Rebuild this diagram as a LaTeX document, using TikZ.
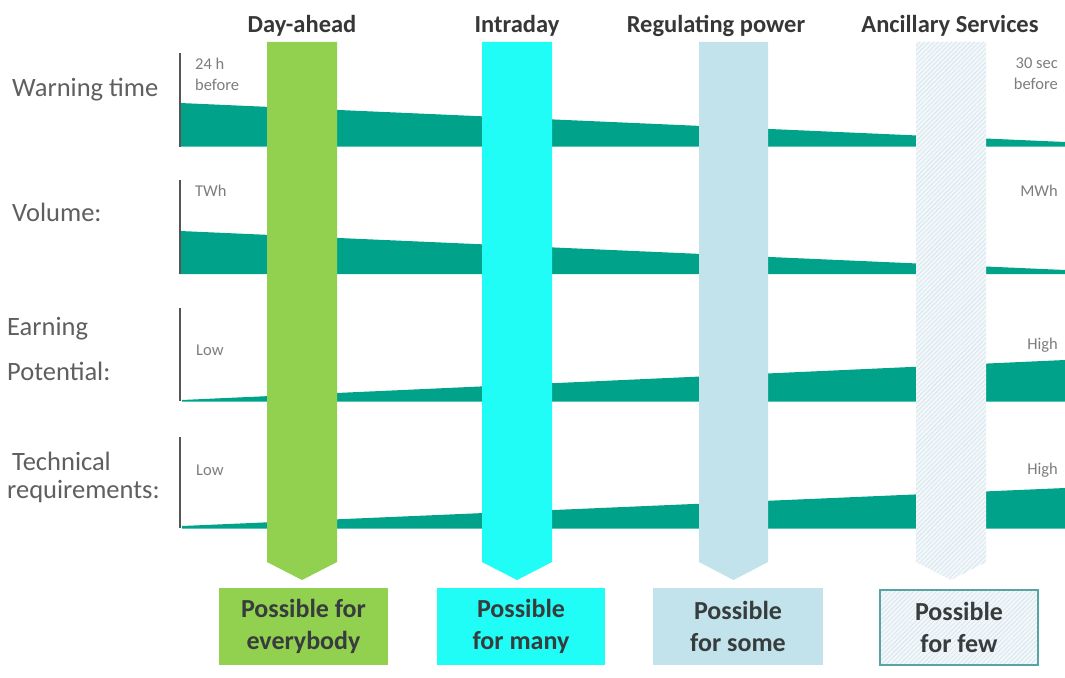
\documentclass[tikz,border=0pt]{standalone}
\usepackage{fontspec}
\setmainfont{Carlito}
\usetikzlibrary{patterns.meta}

\definecolor{bandcol}{RGB}{0,163,138}
\definecolor{axiscol}{RGB}{85,85,85}
\definecolor{labelgray}{RGB}{95,95,95}
\definecolor{smallgray}{RGB}{125,125,125}
\definecolor{headgray}{RGB}{55,55,55}
\definecolor{boxtext}{RGB}{55,60,60}
\definecolor{dayfill}{RGB}{146,208,80}
\definecolor{intrafill}{RGB}{32,252,246}
\definecolor{regfill}{RGB}{194,226,236}
\definecolor{ancfill}{RGB}{241,247,250}
\definecolor{anchatch}{RGB}{212,227,234}
\definecolor{fewdraw}{RGB}{88,164,164}

\begin{document}
\begin{tikzpicture}[x=1pt,y=-1pt,
  band/.style={fill=bandcol,draw=none},
  axisline/.style={draw=axiscol,line width=2pt},
  rowlabel/.style={anchor=base west,inner sep=0pt,text=labelgray,
    font=\fontsize{26.5}{30}\selectfont},
  smalltext/.style={inner sep=0pt,text=smallgray,
    font=\fontsize{16.5}{21}\selectfont},
  header/.style={anchor=base,inner sep=0pt,text=headgray,
    font=\bfseries\fontsize{24.5}{28}\selectfont},
  outcome/.style={minimum width=169pt,minimum height=77pt,inner sep=0pt,
    align=center,text=boxtext,font=\bfseries\fontsize{26}{32}\selectfont},
  hatch/.style={pattern={Lines[angle=45,distance=3.2pt,line width=0.6pt]},
    pattern color=anchatch}
]
\useasboundingbox (0,0) rectangle (1065,677);
\fill[white] (0,0) rectangle (1065,677);

% ---- row labels ----
\node[rowlabel] (lwarn) at (12,96) {Warning time};
\node[rowlabel] (lvol)  at (12,221) {Volume:};
\node[rowlabel] (learn1) at (7,335) {Earning};
\node[rowlabel] (learn2) at (7,380) {Potential:};
\node[rowlabel] (ltech1) at (12,470) {Technical};
\node[rowlabel] (ltech2) at (7,498) {requirements:};

% ---- wedges ----
\fill[band] (180,103) -- (1065,142) -- (1065,146.5) -- (180,146.5) -- cycle;
\fill[band] (180,231) -- (1065,270) -- (1065,274) -- (180,274) -- cycle;
\fill[band] (182,400) -- (1065,360) -- (1065,401.5) -- (182,401.5) -- cycle;
\fill[band] (182,526) -- (1065,488) -- (1065,528.5) -- (182,528.5) -- cycle;

% ---- axes ----
\draw[axisline] (180,53) -- (180,147);
\draw[axisline] (180,180) -- (180,274);
\draw[axisline] (180,308) -- (180,401);
\draw[axisline] (180,437) -- (180,528);

% ---- scale ends ----
\node[smalltext,anchor=north west,align=left] (t24) at (195,58) {24 h\\before};
\node[smalltext,anchor=north east,align=right] (t30) at (1058,58) {30 sec\\before};
\node[smalltext,anchor=base west] (twh) at (195,196) {TWh};
\node[smalltext,anchor=base east] (mwh) at (1058,196) {MWh};
\node[smalltext,anchor=base west] (elow) at (196,355) {Low};
\node[smalltext,anchor=base east] (ehigh) at (1058,349) {High};
\node[smalltext,anchor=base west] (tlow) at (196,475) {Low};
\node[smalltext,anchor=base east] (thigh) at (1058,474) {High};

% ---- market arrows ----
\fill[dayfill]   (267,42) -- (337,42) -- (337,562) -- (302,580) -- (267,562) -- cycle;
\fill[intrafill] (482,42) -- (552,42) -- (552,562) -- (517,580) -- (482,562) -- cycle;
\fill[regfill]   (699,42) -- (768,42) -- (768,562) -- (733.5,580) -- (699,562) -- cycle;
\fill[ancfill]   (916,42) -- (986,42) -- (986,562) -- (951,580) -- (916,562) -- cycle;
\fill[hatch]     (916,42) -- (986,42) -- (986,562) -- (951,580) -- (916,562) -- cycle;

% ---- headers ----
\node[header] (hday)   at (302,33) {Day-ahead};
\node[header] (hintra) at (517,33) {Intraday};
\node[header] (hreg)   at (716,33) {Regulating power};
\node[header] (hanc)   at (950,33) {Ancillary Services};

% ---- outcome boxes ----
\node[outcome,fill=dayfill]   (bday)   at (303.5,626.5) {Possible for\\everybody};
\node[outcome,fill=intrafill,minimum width=168pt] (bintra) at (521,626.5) {Possible\\for many};
\node[outcome,fill=regfill,minimum width=170pt]   (breg)   at (738,626.5) {Possible\\for some};
\node[outcome,preaction={fill=ancfill},hatch,draw=fewdraw,line width=1.5pt,
      minimum width=158pt,minimum height=75pt] (bfew) at (959,627.5) {Possible\\for few};
\end{tikzpicture}
\end{document}
